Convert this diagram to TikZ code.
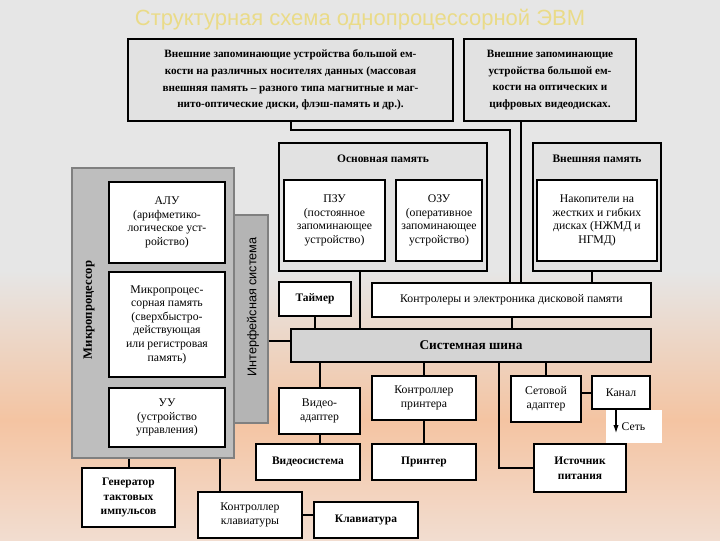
\documentclass[tikz,border=0pt]{standalone}
\usepackage{fontspec}
\setmainfont{Liberation Serif}
\newfontfamily\titlefont{Liberation Sans}
\usetikzlibrary{arrows.meta}
\definecolor{bgg}{HTML}{E6E6E6}
\definecolor{peach}{HTML}{F4C4A2}
\definecolor{peachl}{HTML}{F2DDD0}
\definecolor{boxg}{HTML}{E2E2E2}
\definecolor{mpg}{HTML}{BEBEBE}
\definecolor{titc}{HTML}{EADB88}
\newcommand\mybox[7]{\node[#2, minimum width={(#5-#3)*0.75pt}, minimum height={(#6-#4)*0.75pt}] (#1) at ({(#3+#5)/2},{(#4+#6)/2}) {#7};}
\tikzset{
 wbox/.style={draw=black, line width=1.5pt, fill=white, inner sep=1pt, align=center, font=\fontsize{8.8}{10.2}\selectfont},
 gbox/.style={wbox, fill=boxg},
 conn/.style={draw=black, line width=1.5pt},
}
\begin{document}
\begin{tikzpicture}[x=0.75pt,y=-0.75pt]
\useasboundingbox (0,0) rectangle (720,540);
\fill[bgg] (0,0) rectangle (720,270);
\shade[top color=bgg, bottom color=peach] (0,270) rectangle (720,420);
\shade[top color=peach, bottom color=peachl] (0,420) rectangle (720,540);
\node[font=\titlefont\fontsize{16.5}{18}\selectfont, text=titc] (title) at (360,20) {Структурная схема однопроцессорной ЭВМ};
% top boxes
\mybox{box1}{gbox,font=\bfseries\fontsize{8.4}{12.5}\selectfont}{128}{39}{453}{121}{Внешние запоминающие устройства большой ем-\\кости на различных носителях данных (массовая\\внешняя память – разного типа магнитные и маг-\\нито-оптические диски, флэш-память и др.).}
\mybox{box2}{gbox,font=\bfseries\fontsize{8.4}{12.5}\selectfont}{464}{39}{636}{121}{Внешние запоминающие\\устройства большой ем-\\кости на оптических и\\цифровых видеодисках.}
% memory
\mybox{osn}{gbox}{279}{143}{487}{271}{}
\node[font=\bfseries\fontsize{8.6}{10}\selectfont] (osnl) at (383,159) {Основная память};
\mybox{pzu}{wbox,line width=0.8pt}{284}{180}{385}{261}{ПЗУ\\(постоянное\\запоминающее\\устройство)}
\mybox{ozu}{wbox,line width=0.8pt}{396}{180}{482}{261}{ОЗУ\\(оперативное\\запоминающее\\устройство)}
\mybox{vn}{gbox}{533}{143}{661}{271}{}
\node[font=\bfseries\fontsize{8.6}{10}\selectfont] (vnl) at (597,159) {Внешняя память};
\mybox{nak}{wbox,line width=0.8pt}{537}{180}{657}{261}{Накопители на\\жестких и гибких\\дисках (НЖМД и\\НГМД)}
% processor
\mybox{mp}{draw=gray,fill=mpg,line width=0.8pt}{72}{168}{234}{458}{}
\mybox{iface}{draw=gray,fill=mpg!95!black,line width=0.8pt}{234}{215}{268}{423}{}
\node[rotate=90, font=\bfseries\fontsize{9.5}{11}\selectfont] (mpl) at (89,310) {Микропроцессор};
\node[rotate=90, font=\titlefont\fontsize{9.5}{11}\selectfont] (ifl) at (253,307) {Интерфейсная система};
\mybox{alu}{wbox,line width=0.8pt}{109}{182}{225}{263}{АЛУ\\(арифметико-\\логическое уст-\\ройство)}
\mybox{mpm}{wbox,line width=0.8pt}{109}{272}{225}{377}{Микропроцес-\\сорная память\\(сверхбыстро-\\действующая\\или регистровая\\память)}
\mybox{uu}{wbox,line width=0.8pt}{109}{388}{225}{447}{УУ\\(устройство\\управления)}
\mybox{gen}{wbox,font=\bfseries\fontsize{8.6}{11}\selectfont}{82}{468}{175}{527}{Генератор\\тактовых\\импульсов}
\mybox{kbc}{wbox}{198}{492}{302}{538}{Контроллер\\клавиатуры}
\mybox{kbd}{wbox,font=\bfseries\fontsize{8.6}{10}\selectfont}{314}{502}{418}{538}{Клавиатура}
% bus row
\mybox{tmr}{wbox,font=\bfseries\fontsize{8.6}{10}\selectfont}{279}{282}{351}{316}{Таймер}
\mybox{ctrl}{wbox}{372}{283}{651}{317}{Контролеры и электроника дисковой памяти}
\mybox{bus}{wbox,fill=black!17,font=\bfseries\fontsize{10}{12}\selectfont}{291}{329}{651}{362}{Системная шина}
\mybox{vad}{wbox}{279}{388}{360}{434}{Видео-\\адаптер}
\mybox{vsys}{wbox,font=\bfseries\fontsize{8.6}{10}\selectfont}{256}{444}{360}{480}{Видеосистема}
\mybox{cpr}{wbox}{372}{376}{476}{420}{Контроллер\\принтера}
\mybox{prn}{wbox,font=\bfseries\fontsize{8.6}{10}\selectfont}{372}{444}{476}{480}{Принтер}
\mybox{net}{wbox}{511}{376}{581}{422}{Сетовой\\адаптер}
\mybox{kan}{wbox}{592}{376}{650}{409}{Канал}
\mybox{ist}{wbox,font=\bfseries\fontsize{8.6}{11}\selectfont}{534}{444}{626}{492}{Источник\\питания}
\fill[white] (606,410) rectangle (662,443);
\coordinate (sa) at (616,409);
\coordinate (sb) at (616,433);
\node[anchor=west, font=\fontsize{8.8}{10}\selectfont, inner sep=1pt] (set) at (620,427) {Сеть};
% connectors
\coordinate (c1) at (510,130);
\coordinate (c2) at (521,0);
\coordinate (c3) at (360,0);
\coordinate (c4) at (592,0);
\coordinate (c5) at (320,0);
\coordinate (c6) at (499,461);
\coordinate (c7) at (129,0);
\coordinate (c8) at (220,0);
\coordinate (c9) at (0,341);
\draw[conn] (box1.south) |- (c1) -- (c1 |- ctrl.north);
\draw[conn] (c2 |- box2.south) -- (c2 |- ctrl.north);
\draw[conn] (c3 |- osn.south) -- (c3 |- bus.north);
\draw[conn] (c4 |- vn.south) -- (c4 |- ctrl.north);
\draw[conn] (tmr.south) -- (tmr.south |- bus.north);
\draw[conn] (ctrl.south) -- (ctrl.south |- bus.north);
\draw[conn] (c9 -| iface.east) -- (c9 -| bus.west);
\draw[conn] (c5 |- bus.south) -- (c5 |- vad.north);
\draw[conn] (c5 |- vad.south) -- (c5 |- vsys.north);
\draw[conn] (cpr.north |- bus.south) -- (cpr.north);
\draw[conn] (cpr.south) -- (prn.north);
\draw[conn] (net.north |- bus.south) -- (net.north);
\draw[conn] (c6 |- bus.south) |- (ist.west);
\draw[conn] (net.east |- kan.west) -- (kan.west);
\draw[line width=0.8pt, -{Latex[length=6pt,width=4pt]}] (sa) -- (sb);
\draw[conn] (c7 |- mp.south) -- (c7 |- gen.north);
\draw[conn] (c8 |- mp.south) -- (c8 |- kbc.north);
\draw[conn] (kbc.east) -- (kbd.west |- kbc.east);
\end{tikzpicture}
\end{document}
